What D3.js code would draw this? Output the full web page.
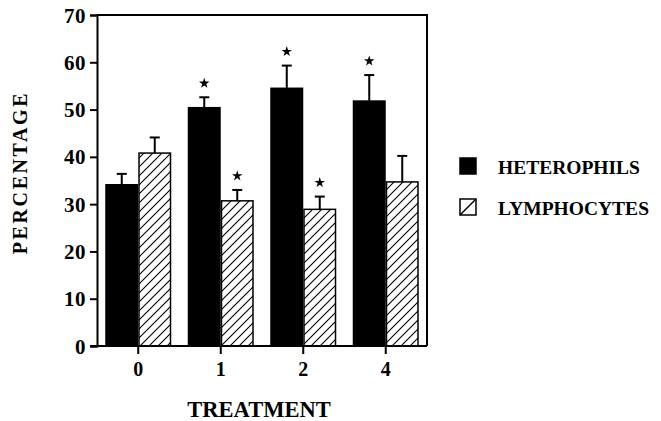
<!DOCTYPE html>
<html><head><meta charset="utf-8">
<script src="https://cdn.jsdelivr.net/npm/d3@7/dist/d3.min.js"></script>
<style>
html,body{margin:0;padding:0;background:#fff;}
svg{display:block;}
text{font-family:"Liberation Serif","Times New Roman",serif;font-weight:bold;fill:#000;}
</style></head>
<body>
<svg id="chart" width="661" height="421"></svg>
<script>
const categories = ["0", "1", "2", "4"];
const seriesNames = ["HETEROPHILS", "LYMPHOCYTES"];
const heterophils = [34.1, 50.4, 54.5, 51.8];
const heterophilsErr = [2.3, 2.2, 4.8, 5.5];
const lymphocytes = [40.8, 30.7, 28.9, 34.7];
const lymphocytesErr = [3.3, 2.3, 2.7, 5.5];
const heterophilsSig = [false, true, true, true];
const lymphocytesSig = [false, true, true, false];
const yTicks = [0, 10, 20, 30, 40, 50, 60, 70];

const svg = d3.select("#chart");
const L = 97, R = 427, T = 15, B = 346;

const defs = svg.append("defs");
const pat = defs.append("pattern").attr("id","hatch").attr("patternUnits","userSpaceOnUse")
  .attr("width",9).attr("height",9);
pat.append("rect").attr("width",9).attr("height",9).attr("fill","#fff");
pat.append("path").attr("d","M-2,11 L11,-2 M-2,2 L2,-2 M7,11 L11,7")
  .attr("stroke","#000").attr("stroke-width",1.1);

const x0 = d3.scaleBand().domain(categories).range([L, R]).paddingInner(0.2).paddingOuter(0.1);
const x1 = d3.scaleBand().domain(seriesNames).range([0, x0.bandwidth()]);
const y = d3.scaleLinear().domain([0, 70]).range([B, T]);

const series = [
  {name: seriesNames[0], vals: heterophils, err: heterophilsErr, sig: heterophilsSig, fill: "#000"},
  {name: seriesNames[1], vals: lymphocytes, err: lymphocytesErr, sig: lymphocytesSig, fill: "url(#hatch)"}
];

series.forEach(s => {
  const g = svg.append("g");
  categories.forEach((c, i) => {
    const bx = x0(c) + x1(s.name);
    const bw = x1.bandwidth();
    const v = s.vals[i], e = s.err[i];
    const cx = bx + bw / 2;
    g.append("line").attr("x1", cx).attr("x2", cx).attr("y1", y(v)).attr("y2", y(v + e))
      .attr("stroke", "#000").attr("stroke-width", 2);
    g.append("line").attr("x1", cx - 5).attr("x2", cx + 5).attr("y1", y(v + e)).attr("y2", y(v + e))
      .attr("stroke", "#000").attr("stroke-width", 2);
    g.append("rect").attr("x", bx + 0.75).attr("y", y(v)).attr("width", bw - 1.5).attr("height", y(0) - y(v))
      .attr("fill", s.fill).attr("stroke", "#000").attr("stroke-width", 1.5);
    if (s.sig[i]) {
      g.append("path").attr("d", d3.symbol(d3.symbolStar, 34)())
        .attr("transform", `translate(${cx},${y(v + e) - 14})`).attr("fill", "#000");
    }
  });
});

svg.append("path").attr("d", `M${L},${T} H${R} V${B}`).attr("fill","none").attr("stroke","#000").attr("stroke-width",2);

const yAxis = d3.axisLeft(y).tickValues(yTicks).tickSize(7).tickPadding(4);
const gy = svg.append("g").attr("transform", `translate(${L},0)`).call(yAxis);
gy.attr("font-family", null).attr("font-size", null);
gy.select(".domain").attr("stroke-width", 2);
gy.selectAll(".tick line").attr("stroke-width", 2);
gy.selectAll(".tick text").style("font-size", "21px").attr("dy", "0.34em").attr("letter-spacing", "0.5px");

const xAxis = d3.axisBottom(x0).tickSizeOuter(0).tickSize(8).tickPadding(8);
const gx = svg.append("g").attr("transform", `translate(0,${B})`).call(xAxis);
gx.attr("font-family", null).attr("font-size", null);
gx.select(".domain").attr("stroke-width", 2).attr("d", `M${L - 7},0 H${R}`);
gx.selectAll(".tick line").attr("stroke-width", 2);
gx.selectAll(".tick text").style("font-size", "20px");

svg.append("text").attr("transform", "translate(27,172.5) rotate(-90)").attr("text-anchor", "middle")
  .style("font-size", "20px").attr("letter-spacing", "2.6px").text("PERCENTAGE");
svg.append("text").attr("x", 259).attr("y", 417).attr("text-anchor", "middle")
  .style("font-size", "22.5px").text("TREATMENT");

series.forEach((s, i) => {
  const ly = 158 + i * 41;
  svg.append("rect").attr("x", 460).attr("y", ly).attr("width", 16).attr("height", 16)
    .attr("fill", i === 0 ? "#000" : "#fff").attr("stroke", "#000").attr("stroke-width", 1.5);
  if (i === 1) svg.append("line").attr("x1", 460).attr("y1", ly + 16).attr("x2", 476).attr("y2", ly)
    .attr("stroke", "#000").attr("stroke-width", 1.5);
  svg.append("text").attr("x", 498).attr("y", ly + 15.5).style("font-size", "19.5px").text(s.name);
});
</script>
</body></html>
